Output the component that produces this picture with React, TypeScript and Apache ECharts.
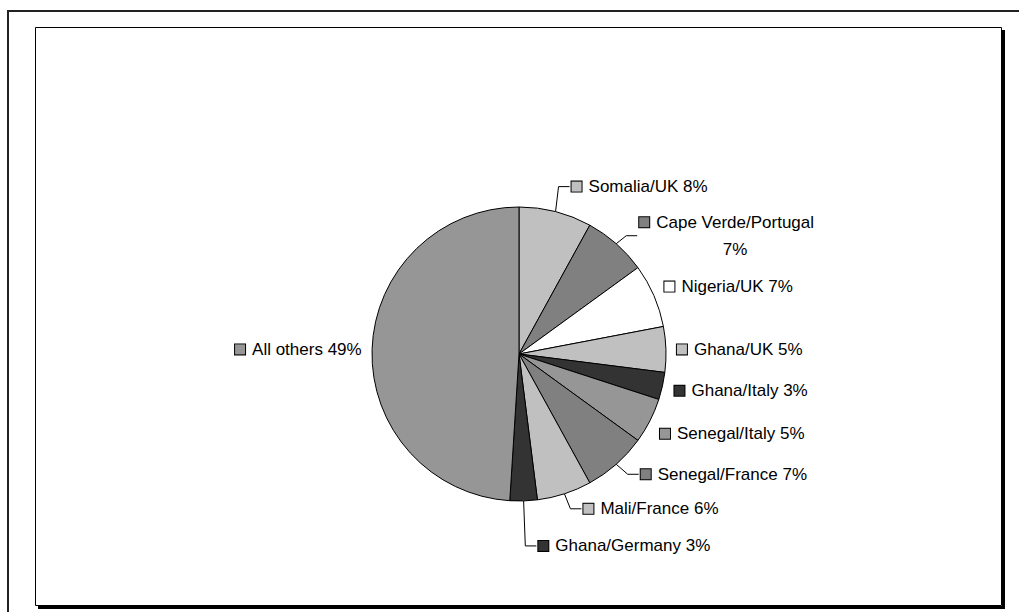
import React, { useEffect, useRef } from "react";
import * as echarts from "echarts";

const categories = [
  "Somalia/UK",
  "Cape Verde/Portugal",
  "Nigeria/UK",
  "Ghana/UK",
  "Ghana/Italy",
  "Senegal/Italy",
  "Senegal/France",
  "Mali/France",
  "Ghana/Germany",
  "All others",
];
const shares = [8, 7, 7, 5, 3, 5, 7, 6, 3, 49];

// styling (not data)
const sliceColors = [
  "#c0c0c0",
  "#808080",
  "#ffffff",
  "#c0c0c0",
  "#333333",
  "#969696",
  "#808080",
  "#c0c0c0",
  "#333333",
  "#969696",
];
const labelOffsets: number[][] = [
  [16, -25],
  [23, -8],
  [10.5, -9],
  [11, 0],
  [12, 4.7],
  [10, 13],
  [24.5, 10],
  [19, 15],
  [14.7, 45],
  [-10.4, 0],
];
const showLeader = [true, true, false, false, false, false, true, true, true, false];
const wrapLabel = [false, true, false, false, false, false, false, false, false, false];

const CX = 519;
const CY = 354;
const R = 147;
const FONT = "'Liberation Sans', Arial, Helvetica, sans-serif";

export default function App() {
  const ref = useRef<HTMLDivElement>(null);
  useEffect(() => {
    if (!ref.current) return;
    const chart = echarts.init(ref.current, null, { renderer: "svg" });
    const total = shares.reduce((a, b) => a + b, 0);
    let cum = 0;
    const mids = shares.map((v) => {
      const m = (cum + v / 2) / total;
      cum += v;
      return m * 2 * Math.PI;
    });
    const rich: any = {
      g: { width: 7 },
      s: { width: 17, align: "left" },
      t: { fontSize: 17, fontFamily: FONT, color: "#000", lineHeight: 27 },
      c: { fontSize: 17, fontFamily: FONT, color: "#000", lineHeight: 27, align: "center" },
    };
    sliceColors.forEach((c, i) => {
      rich["b" + i] = {
        width: 10,
        height: 10,
        backgroundColor: c,
        borderColor: "#000",
        borderWidth: 1,
      };
    });
    const data = categories.map((name, i) => ({
      name,
      value: shares[i],
      itemStyle: { color: sliceColors[i] },
      labelLine: { show: showLeader[i] },
    }));
    chart.setOption({
      animation: false,
      backgroundColor: "#ffffff",
      graphic: [
        {
          type: "rect",
          shape: { x: 8, y: 11, width: 1040, height: 640 },
          style: { fill: "none", stroke: "#222", lineWidth: 2 },
          silent: true,
        },
        {
          type: "rect",
          shape: { x: 35.5, y: 27.5, width: 966, height: 578 },
          style: { fill: "none", stroke: "#000", lineWidth: 1 },
          silent: true,
        },
        {
          type: "rect",
          shape: { x: 1002, y: 30, width: 3, height: 579 },
          style: { fill: "#000" },
          silent: true,
        },
        {
          type: "rect",
          shape: { x: 38, y: 606, width: 967, height: 3 },
          style: { fill: "#000" },
          silent: true,
        },
      ],
      series: [
        {
          type: "pie",
          center: [CX, CY],
          radius: R,
          startAngle: 90,
          clockwise: true,
          avoidLabelOverlap: false,
          silent: true,
          emphasis: { disabled: true },
          itemStyle: { borderColor: "#000", borderWidth: 1 },
          label: {
            show: true,
            position: "outside",
            fontFamily: FONT,
            fontSize: 17,
            color: "#000",
            formatter: (p: any) => {
              const i = p.dataIndex;
              if (wrapLabel[i]) {
                return `{b${i}|}{g|}{t|${p.name}}\n{s|}{c|${p.value}%}`;
              }
              return `{b${i}|}{g|}{t|${p.name} ${p.value}%}`;
            },
            rich,
          },
          labelLine: {
            show: true,
            lineStyle: { color: "#000", width: 1 },
          },
          labelLayout: (p: any) => {
            const i = p.dataIndex;
            const a = mids[i];
            const ex = CX + R * Math.sin(a);
            const ey = CY - R * Math.cos(a);
            const [ox, oy] = labelOffsets[i];
            const lx = ex + ox;
            const ly = ey + oy;
            const right = ox >= 0;
            const res: any = {
              x: lx,
              y: ly,
              align: right ? "left" : "right",
              verticalAlign: "middle",
            };
            if (showLeader[i]) {
              res.labelLinePoints = [
                [ex, ey],
                [lx - 13, ly],
                [lx - 2, ly],
              ];
            }
            return res;
          },
          data,
        },
      ],
    });
    return () => chart.dispose();
  }, []);
  return (
    <div
      ref={ref}
      style={{ position: "fixed", left: 0, top: 0, width: 1019, height: 612 }}
    />
  );
}
